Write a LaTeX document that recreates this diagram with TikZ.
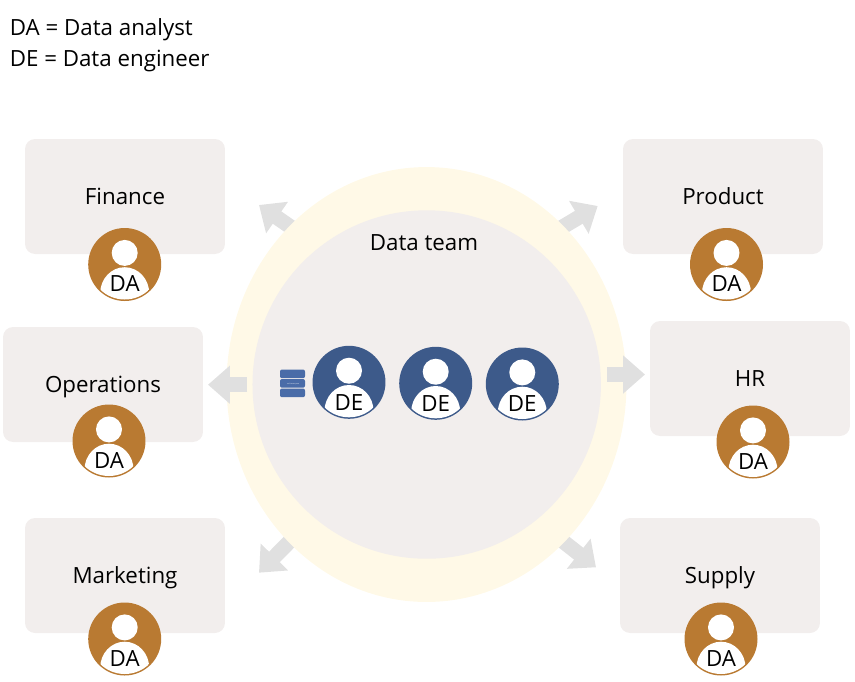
\documentclass[tikz,border=0pt]{standalone}
\usepackage{fontspec}
\setmainfont{Open Sans}
\usepackage{xcolor}
\definecolor{mypanel}{RGB}{242,238,237}
\definecolor{myring}{RGB}{255,249,231}
\definecolor{myarrow}{RGB}{224,224,224}
\definecolor{mybrown}{RGB}{185,122,50}
\definecolor{myblue}{RGB}{61,90,138}
\definecolor{mydb}{RGB}{74,108,168}
\usetikzlibrary{positioning}
\usetikzlibrary{arrows.meta}
\usetikzlibrary{shapes,calc}
\tikzset{
	every node/.style={font=\fontsize{12.7pt}{14pt}\selectfont, text=black, text height=9.5pt, text depth=0pt},
	panel/.style={fill=mypanel, rounded corners=0.2cm, minimum width=4cm, minimum height=2.3cm},
	person/.style={circle, minimum size=1.46cm, inner sep=0pt,
		path picture={
			\fill[white] ([yshift=0.232cm]path picture bounding box.center) circle (0.26cm);
			\clip (path picture bounding box.center) circle (0.70cm);
			\fill[white] ([yshift=-0.574cm]path picture bounding box.center) ellipse (0.49cm and 0.52cm);
		}},
	da/.style={person, fill=mybrown, label={[yshift=-0.38cm]center:DA}},
	de/.style={person, fill=myblue, label={[yshift=-0.39cm]center:DE}},
	flow/.style={draw=myarrow, line width=0.3cm, -{Triangle[length=0.44cm, width=0.74cm]}}
}

\begin{document}
\begin{tikzpicture}[x=0.02cm, y=-0.02cm]
	\useasboundingbox (0,0) rectangle (855,681);

	% legend
	\node[anchor=west] (legendA) at (3.6,27) {DA = Data analyst};
	\node[anchor=west] (legendE) at (3.6,58) {DE = Data engineer};

	% departments
	\node[panel] (finance) at (125,196.5) {Finance};
	\node[panel] (product) at (723,196.5) {Product};
	\node[panel] (operations) at (103,384.5) {Operations};
	\node[panel] (hr) at (750,378.5) {HR};
	\node[panel] (marketing) at (125,575.5) {Marketing};
	\node[panel] (supply) at (720,575.5) {Supply};

	\node[da] (financeDA) at (124.7,264.5) {};
	\node[da] (productDA) at (726.5,264.5) {};
	\node[da] (operationsDA) at (109,441) {};
	\node[da] (hrDA) at (753,442) {};
	\node[da] (marketingDA) at (124.7,639) {};
	\node[da] (supplyDA) at (721,639) {};

	% arrows out of the team
	\coordinate (finS) at (296,230.7);
	\coordinate (finE) at (259,205);
	\coordinate (proS) at (560,228.5);
	\coordinate (proE) at (597.7,206);
	\coordinate (mktS) at (293,538);
	\coordinate (mktE) at (259,572.7);
	\coordinate (supS) at (560,539);
	\coordinate (supE) at (596,567.3);
	\draw[flow] (finS) -- (finE);
	\draw[flow] (proS) -- (proE);
	\draw[flow] (mktS) -- (mktE);
	\draw[flow] (supS) -- (supE);

	% data team
	\node[ellipse, fill=myring, minimum width=8cm, minimum height=8.7cm, inner sep=0pt] (ring) at (426.5,384.5) {};
	\node[circle, fill=mypanel, minimum size=6.97cm, inner sep=0pt] (core) at (426.7,384.5) {};
	\node (team) at (424,242) {Data team};

	\coordinate (opsS) at (247,384.7);
	\coordinate (opsE) at (208,384.7);
	\coordinate (hrS) at (607,374.5);
	\coordinate (hrE) at (645,374.5);
	\draw[flow] (opsS) -- (opsE);
	\draw[flow] (hrS) -- (hrE);

	\node[de] (engA) at (349,382.3) {};
	\node[de] (engB) at (435.7,383.3) {};
	\node[de] (engC) at (522.3,384) {};

	% database icon
	\foreach \y in {369.5,379,388.5}
		\fill[mydb, rounded corners=0.04cm] (280,\y) rectangle (305,\y+8.7);
	\draw[mydb!45!white, line width=0.2pt] (287,383.5) .. controls (291,382) and (294,385) .. (299,383.3);
\end{tikzpicture}
\end{document}
